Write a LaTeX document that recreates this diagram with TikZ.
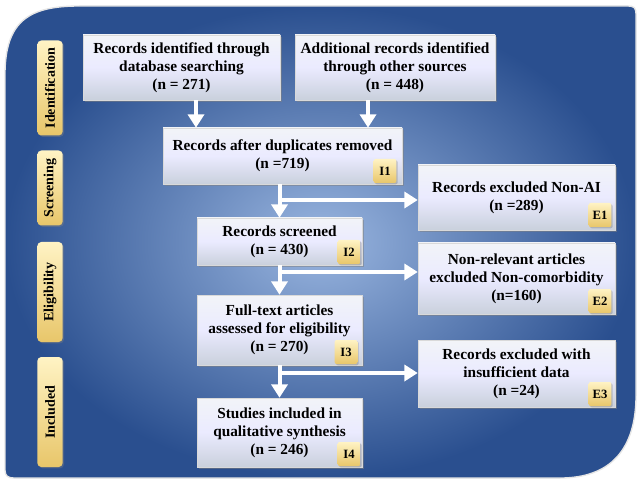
\documentclass[tikz,border=0pt]{standalone}
\usepackage{fontspec}
\setmainfont{Liberation Serif}
\usetikzlibrary{shadows,arrows.meta,positioning}
\definecolor{bgdark}{HTML}{2A4F8F}
\definecolor{bgmid}{HTML}{4A74BA}
\definecolor{bglight}{HTML}{9AB6E0}
\definecolor{boxtop}{HTML}{F2F4F8}
\definecolor{boxbot}{HTML}{C9D0DC}
\definecolor{tagtop}{HTML}{FFF3C4}
\definecolor{tagbot}{HTML}{E8C66A}
\tikzset{
  stepbox/.style={draw=white!70!gray, line width=0.4pt, top color=boxtop, bottom color=boxbot, middle color=white!92!blue,
    drop shadow={opacity=0.5,shadow xshift=1.5pt,shadow yshift=-1.5pt},
    font=\bfseries\fontsize{11.5}{13.5}\selectfont, align=center, inner sep=0pt},
  tagbox/.style={top color=tagtop, bottom color=tagbot, rounded corners=1.5pt, minimum width=17pt, minimum height=18pt,
    font=\bfseries\fontsize{9.5}{10}\selectfont, inner sep=0pt, drop shadow={opacity=0.4,shadow xshift=1pt,shadow yshift=-1pt}},
  sidebox/.style={top color=tagtop, bottom color=tagbot, rounded corners=3pt, minimum height=19pt,
    font=\bfseries\fontsize{10.5}{11}\selectfont, inner sep=0pt, rotate=90, drop shadow={opacity=0.4,shadow xshift=1pt,shadow yshift=-1pt}},
  flow/.style={white, line width=3pt, -{Triangle[width=12pt,length=10pt]}},
}
\newcommand{\pbox}[5]{%
  \node[stepbox, minimum width={(#4-#2)*0.75pt}, minimum height={(#5-#3)*0.75pt}] (#1) at ({(#2+#4)/2*0.75pt},{-(#3+#5)/2*0.75pt})}
\begin{document}
\begin{tikzpicture}[x=0.75pt,y=-0.75pt]
\useasboundingbox (0,0) rectangle (641,484);
\fill[white] (0,0) rectangle (641,484);
\path[inner color=bglight, outer color=bgdark, draw=white!80!gray, line width=1pt]
  (5,75) .. controls (5,20) and (30,6) .. (80,6) -- (628,6) .. controls (634,6) and (636,8) .. (636,14)
  -- (636,395) .. controls (636,450) and (610,478) .. (560,478) -- (14,478) .. controls (8,478) and (5,476) .. (5,470) -- cycle;
\node[sidebox, minimum width={95*0.75pt}] (s1) at (50,88) {Identification};
\node[sidebox, minimum width={75*0.75pt}] (s2) at (50,188) {Screening};
\node[sidebox, minimum width={100*0.75pt}] (s3) at (50,292) {Eligibility};
\node[sidebox, minimum width={110*0.75pt}] (s4) at (50,412) {Included};
\pbox{a}{83}{35}{280}{100}{Records identified through\\database searching\\(n = 271)};
\pbox{b}{295}{35}{495}{100}{Additional records identified\\through other sources\\(n = 448)};
\pbox{c}{163}{128}{402}{184}{Records after duplicates removed\\(n =719)};
\pbox{e1}{418}{165}{615}{230}{\raisebox{10pt}{\begin{tabular}{@{}c@{}}Records excluded Non-AI\\(n =289)\end{tabular}}};
\pbox{i2}{197}{218}{362}{265}{Records screened\\(n = 430)};
\pbox{e2}{418}{243}{615}{314}{Non-relevant articles\\excluded Non-comorbidity\\(n=160)};
\pbox{i3}{197}{295}{362}{365}{Full-text articles\\assessed for eligibility\\(n = 270)};
\pbox{e3}{418}{340}{615}{407}{Records excluded with\\insufficient data\\(n =24)};
\pbox{i4}{197}{398}{362}{467}{Studies included in\\qualitative synthesis\\(n = 246)};
\node[tagbox] (t1) at (385,171) {I1};
\node[tagbox] (t2) at (349,252) {I2};
\node[tagbox] (t3) at (346,352) {I3};
\node[tagbox] (t4) at (349,454) {I4};
\node[tagbox] (t5) at (600,215) {E1};
\node[tagbox] (t6) at (600,301) {E2};
\node[tagbox] (t7) at (600,394) {E3};
\coordinate (j1) at (280,200); \coordinate (j2) at (280,272); \coordinate (j3) at (280,373);
\draw[flow] (a.south -| 196,0) -- (c.north -| 196,0);
\draw[flow] (b.south -| 368,0) -- (c.north -| 368,0);
\draw[flow] (c.south -| i2.north) -- (i2.north);
\draw[flow] (i2.south) -- (i3.north);
\draw[flow] (i3.south) -- (i4.north);
\draw[flow] (j1) -- (j1 -| e1.west);
\draw[flow] (j2) -- (j2 -| e2.west);
\draw[flow] (j3) -- (j3 -| e3.west);
\end{tikzpicture}
\end{document}
